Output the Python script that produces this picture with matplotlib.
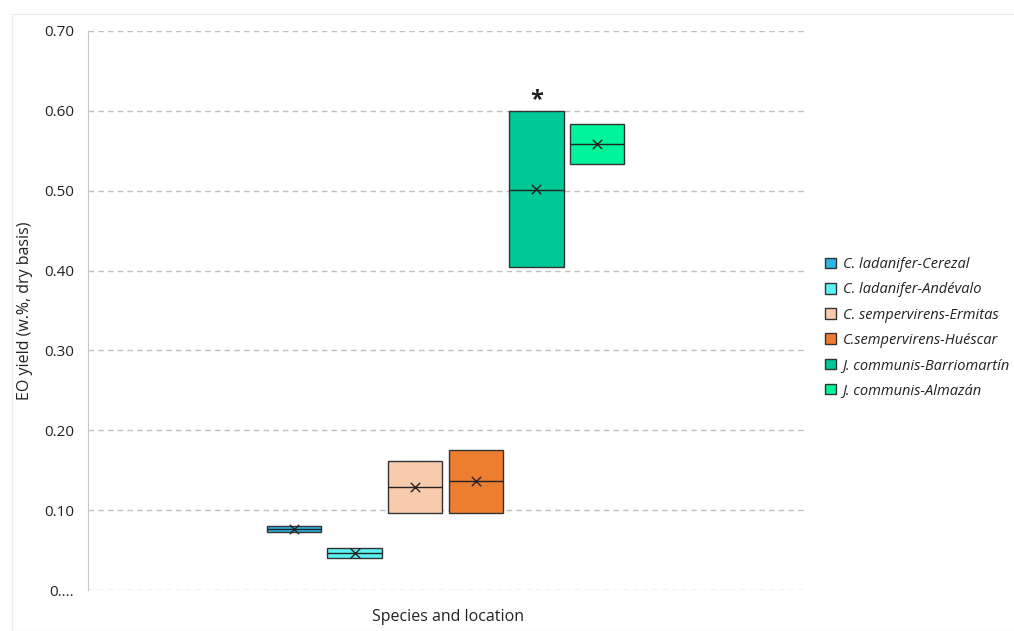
import matplotlib.pyplot as plt
from matplotlib.patches import Patch, Rectangle

# EO yield per species/location (w.%, dry basis)
labels = ["C. ladanifer-Cerezal", "C. ladanifer-Andévalo", "C. sempervirens-Ermitas",
          "C.sempervirens-Huéscar", "J. communis-Barriomartín", "J. communis-Almazán"]
q1 = [0.0725, 0.040, 0.096, 0.096, 0.404, 0.534]
q3 = [0.080, 0.0525, 0.161, 0.175, 0.600, 0.583]
medians = [0.076, 0.046, 0.129, 0.136, 0.501, 0.558]
means = [0.076, 0.046, 0.129, 0.136, 0.502, 0.558]
colors = ["#2EB5E6", "#5CF2F5", "#F7CBAC", "#ED7D31", "#00C896", "#00F59B"]
star_idx = 4
star_y = 0.614

plt.rcParams["font.family"] = ["Open Sans", "DejaVu Sans"]

fig = plt.figure(figsize=(10.14, 6.31), dpi=100)
ax = fig.add_axes([88 / 1014, 1 - 590 / 631, 720 / 1014, 559 / 631])

# faint chart-area border like the original export
fig.patches.append(Rectangle((12 / 1014, 0), 1, 1 - 14 / 631, transform=fig.transFigure,
                             fill=False, edgecolor="#EAEAEA", linewidth=0.8, zorder=0))

xs = list(range(len(labels)))
width = 0.9
for x, lo, hi, med, mn, c in zip(xs, q1, q3, medians, means, colors):
    ax.bar(x, hi - lo, bottom=lo, width=width, color=c, edgecolor="#333333",
           linewidth=1.0, zorder=3)
    ax.hlines(med, x - width / 2, x + width / 2, color="#222222", linewidth=1.0, zorder=4)
    ax.scatter([x], [mn], marker="x", s=45, color="#222222", linewidths=1.0, zorder=5)

ax.text(xs[star_idx], star_y, "*", ha="center", va="center", fontsize=17,
        fontweight="bold", color="#222222")

half = 720 / 60.6 / 2
c0 = 2.5 + 2.5 / 60.6
ax.set_xlim(c0 - half, c0 + half)
ax.set_ylim(0, 0.70)
yt = [0.0, 0.1, 0.2, 0.3, 0.4, 0.5, 0.6, 0.7]
ax.set_yticks(yt)
ax.set_yticklabels(["0...."] + [f"{v:.2f}" for v in yt[1:]], fontsize=11, color="#222222")
ax.set_xticks([])
ax.tick_params(axis="y", length=0, pad=10)
ax.grid(axis="y", linestyle=(0, (4, 3)), color="#BFBFBF", linewidth=1.0, zorder=0)
for s in ["top", "right", "bottom"]:
    ax.spines[s].set_visible(False)
ax.spines["left"].set_color("#C8C8C8")
ax.set_ylabel("EO yield (w.%, dry basis)", fontsize=11.5, color="#222222", labelpad=8)
ax.set_xlabel("Species and location", fontsize=11.5, color="#222222", labelpad=14)

handles = [Patch(facecolor=c, edgecolor="#333333", linewidth=1.0) for c in colors]
fig.legend(handles, labels, loc="upper left", bbox_to_anchor=(812 / 1014, 1 - 244 / 631),
           frameon=False, prop={"style": "italic", "size": 10.5}, handlelength=0.75,
           handleheight=0.75, handletextpad=0.45, labelspacing=0.7, labelcolor="#222222")

fig.savefig("out.png", dpi=100)
